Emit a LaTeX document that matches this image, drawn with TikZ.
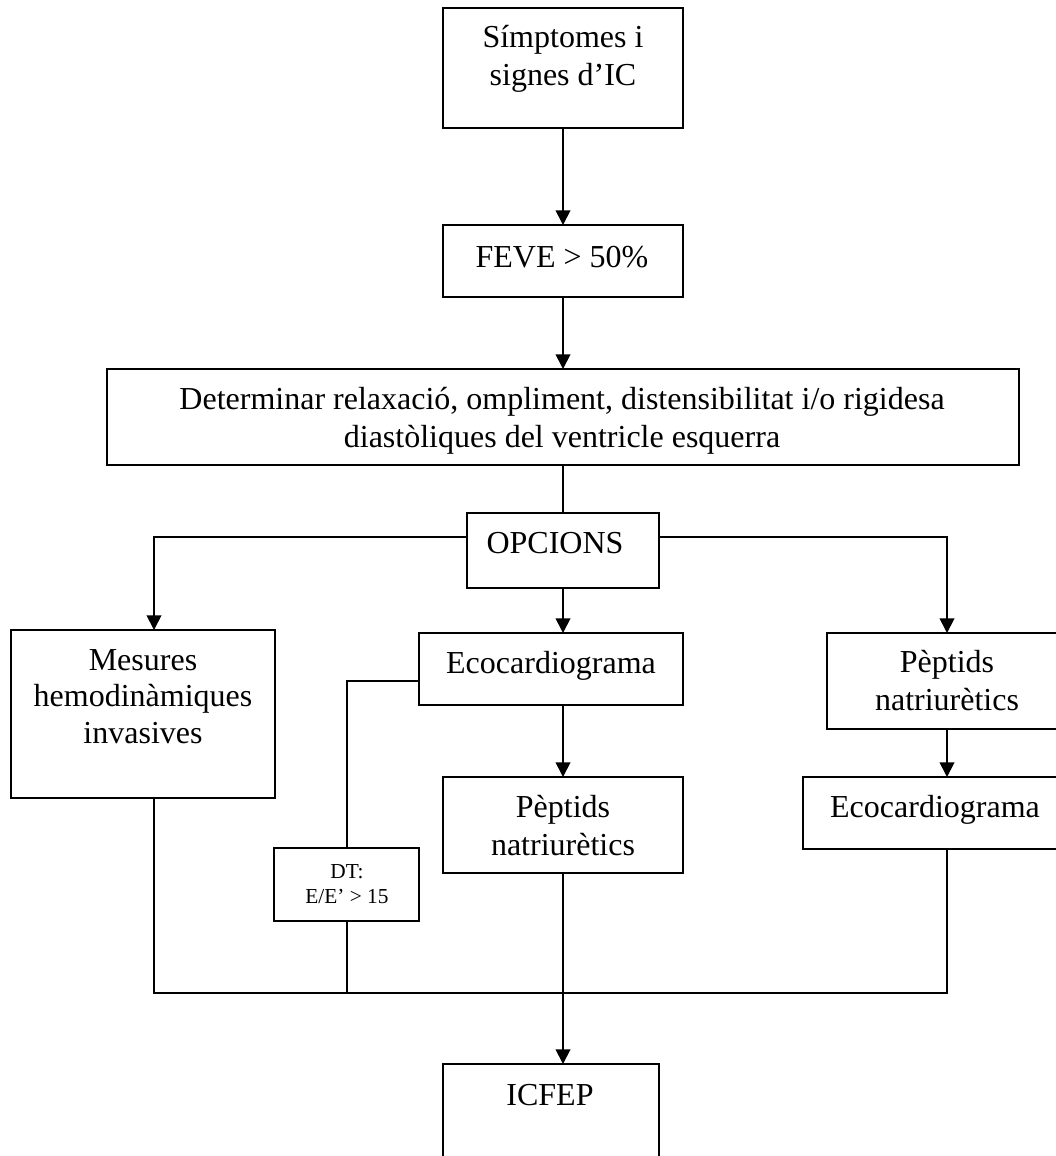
\documentclass[tikz,border=0pt]{standalone}
\usepackage{fontspec}
\setmainfont{Liberation Serif}
\usetikzlibrary{arrows.meta}
\tikzset{
  box/.style={draw, line width=1.7pt, rectangle, inner sep=0pt, outer sep=0pt, fill=white},
  txt/.style={anchor=base, inner sep=0pt, font=\fontsize{24}{27.6}\selectfont},
  smalltxt/.style={anchor=base, inner sep=0pt, font=\fontsize{16}{18.4}\selectfont},
  conn/.style={line width=1.4pt},
  arr/.style={line width=1.4pt, -{Triangle[length=11pt,width=11pt]}},
}
\newcommand\mybox[5]{\node[box, minimum width={(#4-#2)*0.75pt}, minimum height={(#5-#3)*0.75pt}] (#1) at ({(#2+#4)/2},{(#3+#5)/2}) {};}
\begin{document}
\begin{tikzpicture}[x=0.75pt,y=-0.75pt]
\useasboundingbox (0,0) rectangle (1056,1156);
\clip (0,0) rectangle (1056,1156);
% boxes
\mybox{top}{443}{8}{683}{128}
\mybox{feve}{443}{225}{683}{297}
\mybox{det}{107}{369}{1019}{465}
\mybox{opc}{467}{513}{659}{588}
\mybox{mes}{11}{630}{275}{798}
\mybox{ecoa}{419}{633}{683}{705}
\mybox{pepa}{443}{777}{683}{873}
\mybox{pepb}{827}{633}{1068}{729}
\mybox{ecob}{803}{777}{1068}{849}
\mybox{dt}{274}{848}{419}{921}
\mybox{icfep}{443}{1064}{659}{1180}
% texts
\node[txt] (t1a) at (563,48) {Símptomes i};
\node[txt] (t1b) at (563,85) {signes d’IC};
\node[txt] (t2) at (562,267) {FEVE > 50\%};
\node[txt] (t3a) at (562,409) {Determinar relaxació, ompliment, distensibilitat i/o rigidesa};
\node[txt] (t3b) at (562,447) {diastòliques del ventricle esquerra};
\node[txt] (t4) at (555,553) {OPCIONS};
\node[txt] (t5a) at (143,670) {Mesures};
\node[txt] (t5b) at (143,706) {hemodinàmiques};
\node[txt] (t5c) at (143,743) {invasives};
\node[txt] (t6) at (551,673) {Ecocardiograma};
\node[txt] (t7a) at (563,817) {Pèptids};
\node[txt] (t7b) at (563,855) {natriurètics};
\node[txt] (t8a) at (947,672) {Pèptids};
\node[txt] (t8b) at (947,710) {natriurètics};
\node[txt] (t9) at (935,817) {Ecocardiograma};
\node[smalltxt] (t10a) at (347,878) {DT:};
\node[smalltxt] (t10b) at (347,903) {E/E’ > 15};
\node[txt] (t11) at (550,1105) {ICFEP};
% junction coordinates
\coordinate (jl) at (154,537);
\coordinate (jr) at (947,537);
\coordinate (jd) at (347,681);
\coordinate (bl) at (154,993);
\coordinate (br) at (947,993);
% connectors
\draw[arr] (top.south -| 563,0) -- (feve.north -| 563,0);
\draw[arr] (feve.south -| 563,0) -- (det.north -| 563,0);
\draw[conn] (det.south -| 563,0) -- (opc.north -| 563,0);
\draw[arr] (jl -| opc.west) -- (jl) -- (jl |- mes.north);
\draw[arr] (jr -| opc.east) -- (jr) -- (jr |- pepb.north);
\draw[arr] (opc.south -| 563,0) -- (ecoa.north -| 563,0);
\draw[arr] (ecoa.south -| 563,0) -- (pepa.north -| 563,0);
\draw[conn] (jd -| ecoa.west) -- (jd) -- (jd |- dt.north);
\draw[arr] (jr |- pepb.south) -- (jr |- ecob.north);
\draw[conn] (bl |- mes.south) -- (bl) -- (br) -- (br |- ecob.south);
\draw[conn] (jd |- dt.south) -- (jd |- bl);
\draw[arr] (pepa.south -| 563,0) -- (icfep.north -| 563,0);
\end{tikzpicture}
\end{document}
